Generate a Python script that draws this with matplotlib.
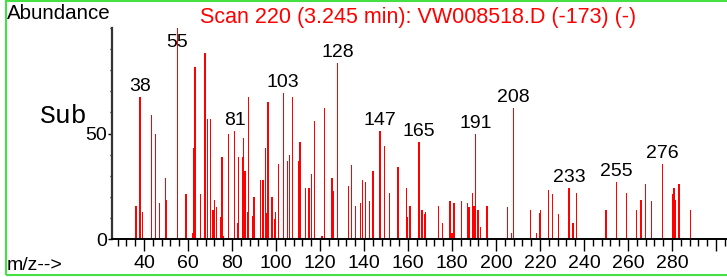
import matplotlib
matplotlib.use("Agg")
import matplotlib.pyplot as plt
from matplotlib.ticker import MultipleLocator, FixedLocator
from matplotlib.patches import Rectangle

plt.rcParams['font.family'] = ['Liberation Sans', 'DejaVu Sans']

# m/z 与丰度
mz = [36.4, 38.2, 39.4, 43.5, 45.15, 47.0, 49.85, 50.3, 55.15, 59.1,
      62.0, 62.6, 63.2, 65.6, 67.7, 68.9, 70.15, 71.4, 72.0, 72.9,
      75.0, 75.45, 76.1, 78.5, 81.2, 82.4, 83.0, 84.8, 85.3, 85.9,
      87.0, 87.6, 89.4, 90.0, 92.9, 94.1, 95.2, 95.6, 96.4, 98.2,
      99.2, 99.9, 101.1, 103.3, 105.2, 106.2, 107.4, 110.3, 110.9, 113.3,
      115.0, 116.2, 117.4, 120.9, 122.1, 125.5, 126.1, 127.9, 133.0, 134.2,
      136.1, 138.5, 139.4, 140.6, 142.4, 144.1, 147.3, 149.4, 151.7, 155.5,
      159.2, 159.9, 160.9, 165.0, 166.4, 167.4, 168.0, 173.8, 175.6, 179.0,
      180.0, 180.9, 184.2, 187.1, 187.7, 189.4, 190.0, 190.6, 191.8, 193.0,
      195.9, 205.3, 207.0, 208.0, 215.6, 218.5, 219.7, 220.3, 223.8, 225.6,
      228.5, 233.2, 234.9, 236.7, 250.0, 254.6, 259.4, 263.9, 265.8, 268.0,
      270.5, 275.6, 280.1, 280.8, 281.4, 283.2, 288.3]
abundance = [15.7, 67.5, 12.7, 59.0, 49.8, 17.0, 29.0, 18.6, 100.0, 21.3,
             3.0, 43.3, 81.6, 21.3, 88.2, 57.1, 57.1, 13.8, 18.6, 15.1,
             10.6, 38.9, 1.4, 49.8, 51.0, 7.8, 38.9, 38.9, 48.1, 32.0,
             12.7, 67.5, 11.0, 20.0, 27.9, 27.9, 43.2, 12.2, 65.0, 20.0,
             9.5, 12.7, 35.7, 69.4, 37.0, 40.0, 67.5, 37.0, 46.2, 24.1,
             24.1, 31.0, 55.9, 1.6, 61.9, 29.0, 22.9, 83.3, 24.9, 35.1,
             15.7, 17.0, 27.9, 27.1, 18.1, 32.2, 51.1, 44.3, 21.7, 34.0,
             24.1, 10.6, 15.7, 46.0, 13.8, 11.9, 12.7, 15.7, 7.8, 18.1,
             2.7, 17.0, 18.1, 17.0, 15.1, 21.7, 15.7, 49.8, 13.8, 5.9,
             15.7, 15.1, 2.7, 61.9, 13.8, 3.0, 12.2, 13.8, 23.0, 21.3,
             12.0, 24.3, 7.8, 21.7, 13.8, 27.1, 21.7, 13.8, 18.7, 26.0,
             18.1, 35.7, 21.1, 24.3, 18.7, 26.0, 13.8]

# 标注的峰
label_mz = [38.2, 55.15, 81.2, 103.3, 127.9, 147.3, 165.0, 190.6, 208.0,
            233.2, 254.6, 275.6]

W, H = 727, 277
fig = plt.figure(figsize=(W / 100, H / 100), dpi=100)
ax = fig.add_axes([112 / W, 38 / H, (726 - 112) / W, (239 - 28) / H])

ax.bar(mz, abundance, width=0.6, color='#ff0000', linewidth=0)

ax.set_xlim(25.45, 304.5)
ax.set_ylim(0, 100)

for m in label_mz:
    v = abundance[mz.index(m)]
    ax.annotate(f'{round(m)}', xy=(m, min(v, 88.4)), xytext=(0, 4.3),
                textcoords='offset points', ha='center', va='baseline',
                fontsize=14, color='black')

ax.spines['top'].set_visible(False)
ax.spines['right'].set_visible(False)
ax.spines['left'].set_color('#333333')
ax.spines['left'].set_linewidth(1.6)
ax.spines['bottom'].set_linewidth(1.4)

ax.xaxis.set_major_locator(FixedLocator(range(40, 301, 20)))
ax.set_xticklabels([str(t) if t < 300 else '' for t in range(40, 301, 20)])
ax.xaxis.set_minor_locator(MultipleLocator(4))
ax.yaxis.set_major_locator(FixedLocator([0, 50]))
ax.yaxis.set_minor_locator(MultipleLocator(10))

ax.tick_params(axis='x', which='major', direction='out', length=8.6,
               width=1.0, labelsize=14, pad=3)
ax.tick_params(axis='x', which='minor', direction='out', length=5, width=1.0)
ax.tick_params(axis='y', which='major', direction='out', length=3,
               width=1.0, labelsize=14, pad=0.5)
ax.tick_params(axis='y', which='minor', direction='out', length=1.5, width=1.0)

fig.text(7 / W, 1 - 19.3 / H, 'Abundance', fontsize=14.8, va='baseline')
fig.text(418 / W, 1 - 22.7 / H, 'Scan 220 (3.245 min): VW008518.D (-173) (-)',
         fontsize=15.5, color='#ff0000', ha='center', va='baseline')
fig.text(7 / W, 1 - 270 / H, 'm/z-->', fontsize=14, va='baseline')
fig.text(40 / W, 1 - 123.3 / H, 'Sub', fontsize=19, va='baseline',
         family='Liberation Mono')

fig.patches.append(Rectangle((6 / W, 2 / H), 1.0, 1 - 3 / H, fill=False,
                             edgecolor='#44e044', linewidth=1.5,
                             transform=fig.transFigure, figure=fig))

fig.savefig('out.png', dpi=100)
